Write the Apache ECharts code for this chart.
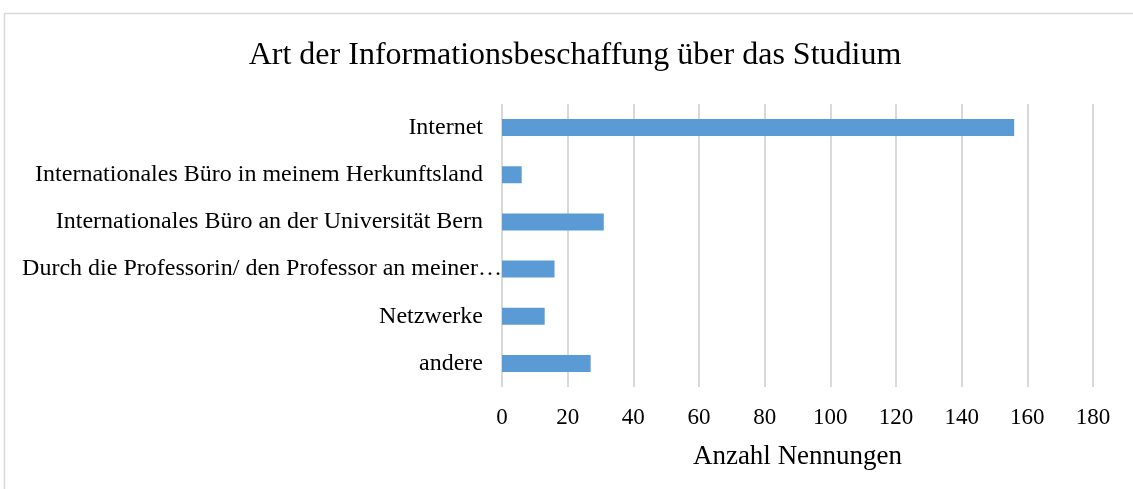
<!DOCTYPE html>
<html>
<head>
<meta charset="utf-8">
<script src="https://cdn.jsdelivr.net/npm/echarts@6/dist/echarts.min.js"></script>
<style>
  html, body { margin: 0; padding: 0; background: #fff; }
  #chart-panel { width: 1133px; height: 489px; }
</style>
</head>
<body>
<div id="chart-panel"></div>
<script>
// Kategorien von oben nach unten
var categories = [
    'Internet',
    'Internationales Büro in meinem Herkunftsland',
    'Internationales Büro an der Universität Bern',
    'Durch die Professorin/ den Professor an meiner Heimatuniversität',
    'Netzwerke',
    'andere'
];
var values = [156, 6, 31, 16, 13, 27];
var xTicks = [0, 20, 40, 60, 80, 100, 120, 140, 160, 180];

var serif = '"Liberation Serif", "DejaVu Serif", serif';

var myChart = echarts.init(document.getElementById('chart-panel'));
var option = {
    animation: false,
    textStyle: { fontFamily: serif },
    title: {
        text: 'Art der Informationsbeschaffung über das Studium',
        left: 570,
        top: 35,
        textAlign: 'center',
        textStyle: {
            fontFamily: serif,
            fontSize: 32,
            fontWeight: 'normal',
            color: '#000'
        }
    },
    graphic: [{
        type: 'rect',
        shape: { x: 4.5, y: 13.5, width: 1140, height: 490 },
        style: { fill: 'none', stroke: '#d9d9d9', lineWidth: 1.5 },
        silent: true
    }],
    grid: {
        left: 502,
        right: 40,
        top: 104,
        bottom: 102
    },
    xAxis: {
        type: 'value',
        min: xTicks[0],
        max: xTicks[xTicks.length - 1],
        interval: 20,
        name: 'Anzahl Nennungen',
        nameLocation: 'middle',
        nameGap: 56,
        nameTextStyle: { fontFamily: serif, fontSize: 27, color: '#000' },
        axisLine: { show: false },
        axisTick: { show: false },
        axisLabel: { fontFamily: serif, fontSize: 23, color: '#000', margin: 19 },
        splitLine: { lineStyle: { color: '#d9d9d9', width: 2 } }
    },
    yAxis: {
        type: 'category',
        inverse: true,
        data: categories,
        axisLine: { show: false },
        axisTick: { show: false },
        axisLabel: {
            fontFamily: serif,
            fontSize: 24,
            color: '#000',
            margin: 0,
            width: 487,
            overflow: 'truncate',
            ellipsis: '…',
            // lange Beschriftung ragt bis an die Achse, die anderen haben Abstand
            formatter: function (v) {
                return v.length > 45 ? '{t|' + v + '}' : '{n|' + v + '}';
            },
            rich: {
                n: { fontFamily: serif, fontSize: 24, color: '#000', padding: [0, 19, 0, 0] },
                t: { fontFamily: serif, fontSize: 24, color: '#000' }
            }
        }
    },
    series: [{
        type: 'bar',
        data: values,
        barWidth: 17,
        itemStyle: { color: '#5b9bd5' }
    }]
};
myChart.setOption(option);
</script>
</body>
</html>
